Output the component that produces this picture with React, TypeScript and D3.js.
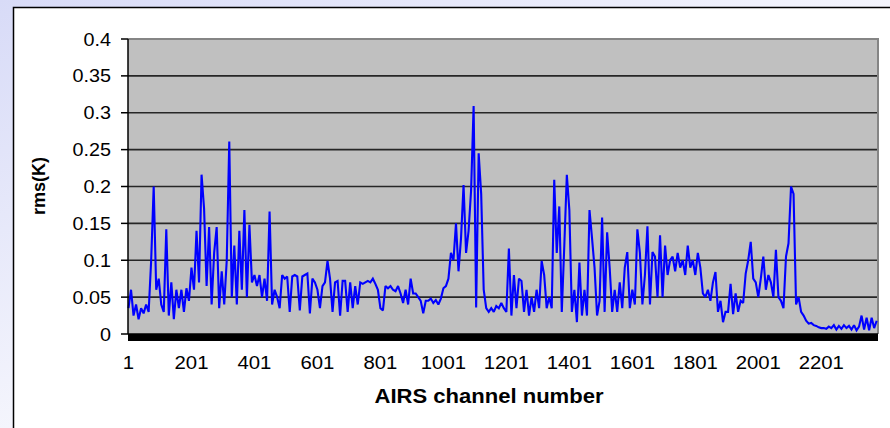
import React from "react";
import * as d3 from "d3";

// AIRS channel sampling: every 8th channel starting at channel 1
const channelStart = 1;
const channelStep = 8;

const rmsValues: number[] = [
  // channels 1 - 473
  0.035, 0.06, 0.025, 0.04, 0.02, 0.035, 0.028, 0.04, 0.03, 0.1,
  0.2, 0.06, 0.075, 0.04, 0.03, 0.142, 0.025, 0.07, 0.02, 0.06,
  0.035, 0.06, 0.03, 0.062, 0.045, 0.09, 0.06, 0.14, 0.07, 0.216,
  0.17, 0.065, 0.145, 0.04, 0.11, 0.145, 0.035, 0.085, 0.04, 0.1,
  0.261, 0.05, 0.12, 0.04, 0.14, 0.06, 0.168, 0.05, 0.148, 0.07,
  0.08, 0.065, 0.08, 0.05, 0.075, 0.045, 0.166, 0.04, 0.06, 0.05,
  // channels 481 - 945
  0.035, 0.08, 0.075, 0.078, 0.03, 0.078, 0.08, 0.078, 0.032, 0.078,
  0.08, 0.082, 0.028, 0.075, 0.07, 0.06, 0.035, 0.065, 0.07, 0.099,
  0.075, 0.03, 0.07, 0.072, 0.025, 0.072, 0.072, 0.03, 0.07, 0.035,
  0.065, 0.04, 0.07, 0.068, 0.07, 0.072, 0.07, 0.075, 0.068, 0.06,
  0.035, 0.032, 0.065, 0.062, 0.065, 0.06, 0.058, 0.065, 0.055, 0.042,
  0.06, 0.04, 0.075, 0.055, 0.055, 0.05, 0.045, 0.028, 0.045,
  // channels 953 - 1425
  0.045, 0.048, 0.042, 0.046, 0.04, 0.048, 0.062, 0.065, 0.075, 0.11,
  0.1, 0.15, 0.085, 0.13, 0.202, 0.11, 0.14, 0.195, 0.309, 0.036,
  0.245, 0.19, 0.06, 0.035, 0.03, 0.035, 0.03, 0.038, 0.035, 0.042,
  0.035, 0.03, 0.116, 0.025, 0.08, 0.035, 0.075, 0.072, 0.03, 0.06,
  0.025, 0.05, 0.03, 0.06, 0.035, 0.099, 0.08, 0.035, 0.05, 0.035,
  0.209, 0.11, 0.173, 0.03, 0.12, 0.216, 0.168, 0.03, 0.06, 0.016,
  // channels 1433 - 1897
  0.097, 0.025, 0.06, 0.025, 0.168, 0.13, 0.09, 0.025, 0.045, 0.158,
  0.03, 0.138, 0.09, 0.03, 0.06, 0.03, 0.07, 0.035, 0.09, 0.111,
  0.035, 0.06, 0.04, 0.142, 0.11, 0.04, 0.08, 0.146, 0.04, 0.111,
  0.105, 0.05, 0.134, 0.05, 0.12, 0.08, 0.1, 0.105, 0.085, 0.11,
  0.09, 0.1, 0.08, 0.12, 0.09, 0.1, 0.08, 0.11, 0.09, 0.055,
  0.05, 0.06, 0.045, 0.07, 0.084, 0.03, 0.045, 0.016, 0.03,
  // channels 1905 - 2377
  0.03, 0.068, 0.027, 0.055, 0.03, 0.045, 0.042, 0.082, 0.1, 0.125,
  0.075, 0.07, 0.05, 0.075, 0.105, 0.06, 0.08, 0.07, 0.05, 0.114,
  0.05, 0.045, 0.035, 0.105, 0.123, 0.2, 0.19, 0.04, 0.05, 0.03,
  0.025, 0.018, 0.014, 0.015, 0.012, 0.011, 0.009, 0.008, 0.008, 0.007,
  0.01, 0.008, 0.012, 0.006, 0.011, 0.007, 0.012, 0.008, 0.011, 0.006,
  0.012, 0.005, 0.01, 0.025, 0.006, 0.022, 0.005, 0.022, 0.008, 0.018,
];

const yTicks = [0, 0.05, 0.1, 0.15, 0.2, 0.25, 0.3, 0.35, 0.4];
const xTickLabels = [1, 201, 401, 601, 801, 1001, 1201, 1401, 1601, 1801, 2001, 2201];
const totalChannels = 2378;

const W = 890;
const H = 428;
const plot = { left: 128, right: 878, top: 39, bottom: 334 };

export default function App() {
  const x = d3.scaleLinear().domain([1, totalChannels]).range([plot.left + 0.5, 877]);
  const y = d3.scaleLinear().domain([0, 0.4]).range([plot.bottom, plot.top]);

  const points: [number, number][] = rmsValues.map((v, i) => [
    channelStart + i * channelStep,
    v,
  ]);
  const line = d3
    .line<[number, number]>()
    .x((d) => x(d[0]))
    .y((d) => y(d[1]));

  const font = "'Liberation Sans', Arial, sans-serif";

  return (
    <svg
      width={W}
      height={H}
      style={{ position: "absolute", left: 0, top: 0, display: "block" }}
    >
      <defs>
        <linearGradient id="bg" x1="0" y1="0" x2="1" y2="1">
          <stop offset="0" stopColor="#d8dbf7" />
          <stop offset="0.7" stopColor="#ffffff" />
        </linearGradient>
      </defs>
      <rect x={0} y={0} width={W} height={H} fill="url(#bg)" />
      <rect
        x={13.5}
        y={7.5}
        width={W + 20}
        height={H + 20}
        fill="#ffffff"
        stroke="#000000"
        strokeWidth={1.5}
      />

      {/* plot area */}
      <rect
        x={plot.left}
        y={plot.top}
        width={plot.right - plot.left}
        height={plot.bottom - plot.top}
        fill="#c0c0c0"
      />
      {/* gridlines */}
      {yTicks.slice(1, -1).map((t) => (
        <line
          key={"g" + t}
          x1={plot.left}
          x2={plot.right}
          y1={y(t)}
          y2={y(t)}
          stroke="#262626"
          strokeWidth={1.6}
        />
      ))}
      {/* plot border top & right */}
      <path
        d={`M${plot.left},${plot.top}H${plot.right}V${plot.bottom}`}
        fill="none"
        stroke="#858585"
        strokeWidth={2}
      />

      {/* data line */}
      <path
        d={line(points) || ""}
        fill="none"
        stroke="#0000ff"
        strokeWidth={2.1}
        strokeLinejoin="miter"
        strokeMiterlimit={2}
      />

      {/* y axis */}
      <line
        x1={plot.left}
        x2={plot.left}
        y1={plot.top}
        y2={plot.bottom}
        stroke="#000"
        strokeWidth={1.5}
      />
      {yTicks.map((t) => (
        <g key={"yt" + t}>
          <line
            x1={121}
            x2={plot.left}
            y1={y(t)}
            y2={y(t)}
            stroke="#000"
            strokeWidth={1.5}
          />
          <text
            transform={`translate(111,${y(t) + 6.5}) scale(1.1,1)`}
            textAnchor="end"
            fontFamily={font}
            fontSize={18}
            fill="#000"
          >
            {t === 0 ? "0" : String(t)}
          </text>
        </g>
      ))}

      {/* x axis: dense category tick band */}
      <line
        x1={plot.left}
        x2={plot.right}
        y1={plot.bottom}
        y2={plot.bottom}
        stroke="#000"
        strokeWidth={1.5}
      />
      <rect
        x={plot.left}
        y={plot.bottom}
        width={plot.right - plot.left}
        height={7}
        fill="#000"
      />
      {xTickLabels.map((c) => (
        <text
          key={"xt" + c}
          transform={`translate(${x(c)},369) scale(1.1,1)`}
          textAnchor="middle"
          fontFamily={font}
          fontSize={18.5}
          fill="#000"
        >
          {c}
        </text>
      ))}

      {/* axis titles */}
      <text
        transform={`translate(489,403) scale(1.05,1)`}
        textAnchor="middle"
        fontFamily={font}
        fontSize={21}
        fontWeight="bold"
        fill="#000"
      >
        AIRS channel number
      </text>
      <text
        transform={`translate(45,186) rotate(-90)`}
        textAnchor="middle"
        fontFamily={font}
        fontSize={18}
        fontWeight="bold"
        fill="#000"
      >
        rms(K)
      </text>
    </svg>
  );
}
